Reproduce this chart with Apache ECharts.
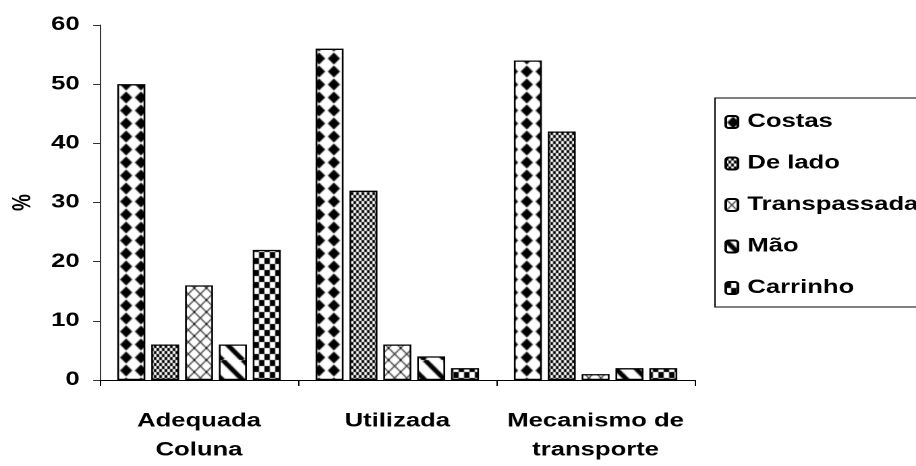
<!DOCTYPE html>
<html>
<head>
<meta charset="utf-8">
<script src="https://cdn.jsdelivr.net/npm/echarts@6/dist/echarts.min.js"></script>
<style>
  html, body { margin: 0; padding: 0; background: #fff; }
  #wrap { width: 916px; height: 466px; overflow: hidden; position: relative; }
  /* le graphique d'origine est étiré horizontalement : on dessine plus étroit puis on étire */
  #chart { width: 679px; height: 466px; transform: scaleX(1.349); transform-origin: 0 0; }
</style>
</head>
<body>
<div id="wrap"><div id="chart"></div></div>
<script>
// données
var categories = ['Adequada\nColuna', 'Utilizada', 'Mecanismo de\ntransporte'];
var seriesNames = ['Costas', 'De lado', 'Transpassada', 'Mão', 'Carrinho'];
var costas = [50, 56, 54];
var deLado = [6, 32, 42];
var transpassada = [16, 6, 1];
var mao = [6, 4, 2];
var carrinho = [22, 2, 2];
var yTicks = [0, 60, 10]; // min, max, intervalle

// motifs noir et blanc (hachures façon Excel)
function tile(w, h, draw) {
    var c = document.createElement('canvas');
    c.width = w; c.height = h;
    var g = c.getContext('2d');
    g.fillStyle = '#fff';
    g.fillRect(0, 0, w, h);
    g.fillStyle = '#000';
    g.strokeStyle = '#000';
    draw(g, w, h);
    return { image: c, repeat: 'repeat' };
}

var patterns = [
    tile(11, 13, function (g) { // losanges
        g.beginPath();
        g.moveTo(5.5, 0.5); g.lineTo(10, 6.5); g.lineTo(5.5, 12.5); g.lineTo(1, 6.5);
        g.closePath(); g.fill();
    }),
    tile(4, 6, function (g) { // petit damier
        g.fillRect(0, 0, 2, 3); g.fillRect(2, 3, 2, 3);
    }),
    tile(9, 12, function (g) { // treillis
        g.lineWidth = 1;
        g.beginPath();
        g.moveTo(0, 0); g.lineTo(9, 12);
        g.moveTo(9, 0); g.lineTo(0, 12);
        g.stroke();
    }),
    tile(15, 20, function (g) { // grosse diagonale
        g.lineWidth = 4;
        g.beginPath();
        [-15, 0, 15].forEach(function (dx) { g.moveTo(dx, 0); g.lineTo(dx + 15, 20); });
        g.stroke();
    }),
    tile(8, 12, function (g) { // grand damier
        g.fillRect(0, 0, 4, 6); g.fillRect(4, 6, 4, 6);
    })
];

var values = [costas, deLado, transpassada, mao, carrinho];
var font = "'Liberation Sans', Arial, sans-serif";

var chart = echarts.init(document.getElementById('chart'), null, { devicePixelRatio: 2 });
chart.setOption({
    animation: false,
    grid: { left: 72, right: 164, top: 25, bottom: 86 },
    legend: {
        orient: 'vertical',
        left: 530,
        top: 98,
        padding: [14, 60, 9, 7],
        itemGap: 21.5,
        itemWidth: 9,
        itemHeight: 12,
        borderColor: '#000',
        borderWidth: 1,
        data: seriesNames,
        textStyle: {
            fontFamily: font, fontWeight: 'bold', fontSize: 19, color: '#000',
            lineHeight: 20, padding: [0, 0, 0, 2]
        }
    },
    xAxis: {
        type: 'category',
        data: categories,
        axisLine: { lineStyle: { color: '#000', width: 1 } },
        axisTick: { show: true, length: 6, lineStyle: { color: '#000' } },
        axisLabel: {
            interval: 0, margin: 27, lineHeight: 29,
            fontFamily: font, fontWeight: 'bold', fontSize: 19, color: '#000'
        }
    },
    yAxis: {
        type: 'value',
        min: yTicks[0], max: yTicks[1], interval: yTicks[2],
        name: '%',
        nameLocation: 'middle',
        nameGap: 46,
        nameTextStyle: { fontFamily: font, fontWeight: 'bold', fontSize: 19, color: '#000' },
        splitLine: { show: false },
        axisLine: { show: true, lineStyle: { color: '#333', width: 1 } },
        axisTick: { show: true, length: 5, lineStyle: { color: '#333' } },
        axisLabel: { margin: 15, fontFamily: font, fontWeight: 'bold', fontSize: 19, color: '#000' }
    },
    series: seriesNames.map(function (name, i) {
        return {
            name: name,
            type: 'bar',
            data: values[i],
            barGap: '21%',
            barCategoryGap: '17.6%',
            itemStyle: { color: patterns[i], borderColor: '#000', borderWidth: 1.3 }
        };
    })
});
</script>
</body>
</html>
